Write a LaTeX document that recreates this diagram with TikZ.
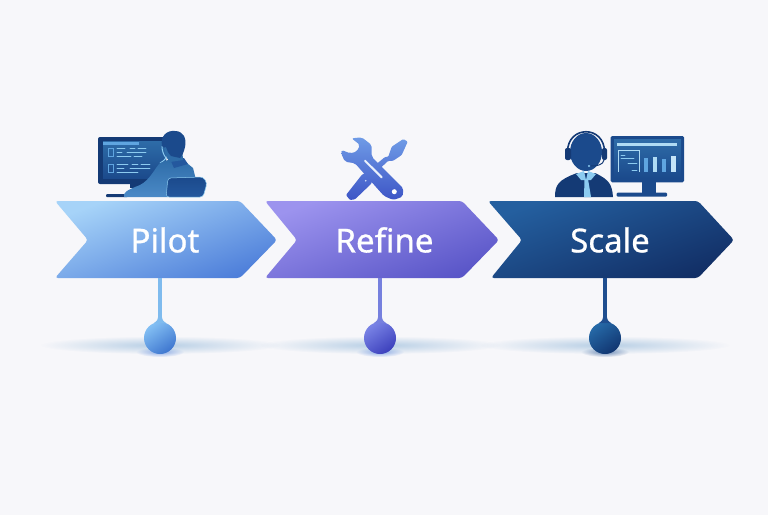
\documentclass[tikz,border=0pt]{standalone}
\usepackage{fontspec}
\usetikzlibrary{fadings}
\newfontfamily\labelfont[FakeBold=0.8]{Noto Sans}
\definecolor{paper}{HTML}{F7F7FA}
\definecolor{navy}{HTML}{1B4A8C}
\definecolor{deepnavy}{HTML}{143A75}
\definecolor{skyline}{HTML}{8CCBF0}
\definecolor{midblue}{HTML}{5FA5E0}
\definecolor{screentop}{HTML}{2E6CA8}
\definecolor{coat}{HTML}{24589E}
\definecolor{pilottop}{HTML}{A6D3F8}
\definecolor{pilotlow}{HTML}{4E7FDA}
\definecolor{refinetop}{HTML}{9C93EE}
\definecolor{refinelow}{HTML}{5A56C8}
\definecolor{scaletop}{HTML}{245F9F}
\definecolor{scalelow}{HTML}{122F66}
\definecolor{pilotball}{HTML}{84C0F4}
\definecolor{pilotballlow}{HTML}{3E76CF}
\definecolor{refineball}{HTML}{7A84E6}
\definecolor{refineballlow}{HTML}{3C40BC}
\definecolor{scaleball}{HTML}{266AA8}
\definecolor{scaleballlow}{HTML}{113570}
\definecolor{pilotstem}{HTML}{7FBBEE}
\definecolor{refinestem}{HTML}{7680DE}
\definecolor{scalestem}{HTML}{1F4E8F}
\definecolor{tooltop}{HTML}{6F9BE6}
\definecolor{toollow}{HTML}{3D55C6}
\tikzset{
  boxlabel/.style={text=white,font=\labelfont\fontsize{33}{33}\selectfont,inner sep=0pt},
  chevron/.style={rounded corners=3pt},
  stem/.style={line width=3.2pt},
  dot/.style={circle,minimum size=32pt,inner sep=0pt},
  floorglow/.style={color=navy!40!skyline,path fading=softspot,opacity=.42},
  dotshadow/.style={color=#1,path fading=softspot,opacity=.6},
  screenline/.style={draw=skyline,line width=.9pt,line cap=round}
}
\tikzfading[name=softspot,inner color=transparent!0,outer color=transparent!100]
\begin{document}
\begin{tikzpicture}[x=1pt,y=-1pt]
  \useasboundingbox (0,0) rectangle (768,515);
  \fill [paper] (0,0) rectangle (768,515);
  % Floor glow
  \fill [floorglow] (160,345) ellipse (120 and 9);
  \fill [floorglow] (380,345) ellipse (120 and 9);
  \fill [floorglow] (605,345) ellipse (125 and 9);
  \fill [dotshadow=pilotlow] (160,352) ellipse (24 and 5);
  \fill [dotshadow=pilotlow] (380,352) ellipse (24 and 5);
  \fill [dotshadow=navy] (605,352) ellipse (24 and 5);
  % Arrow boxes
  \shade [chevron,top color=pilottop,bottom color=pilotlow,shading angle=20] (55,201) -- (240,201) -- (277,240) -- (240,278) -- (55,278) -- (88,240) -- cycle;
  \shade [chevron,top color=refinetop,bottom color=refinelow,shading angle=20] (265,201) -- (462,201) -- (499,240) -- (462,278) -- (265,278) -- (297,240) -- cycle;
  \shade [chevron,top color=scaletop,bottom color=scalelow,shading angle=20] (488,201) -- (698,201) -- (734,240) -- (698,278) -- (491,278) -- (522,240) -- cycle;
  % Labels
  \node [boxlabel] (pilot) at (165,240) {Pilot};
  \node [boxlabel] (refine) at (384.5,240) {Refine};
  \node [boxlabel] (scale) at (610,240) {Scale};
  % Stems and dots
  \coordinate (pilotfoot) at (160,278);
  \coordinate (refinefoot) at (380,278);
  \coordinate (scalefoot) at (605,278);
  \node [dot,top color=pilotball,bottom color=pilotballlow,shading angle=35] (pilotdot) at (160,338) {};
  \node [dot,top color=refineball,bottom color=refineballlow,shading angle=35] (refinedot) at (380,338) {};
  \node [dot,top color=scaleball,bottom color=scaleballlow,shading angle=35] (scaledot) at (605,338) {};
  \draw [stem,color=pilotstem] (pilotfoot) -- (pilotdot);
  \draw [stem,color=refinestem] (refinefoot) -- (refinedot);
  \draw [stem,color=scalestem] (scalefoot) -- (scaledot);
  % Stem flares
  \fill [pilotstem] (158.4,316) .. controls (158.4,319) and (157,321) .. (154,323) -- (166,323) .. controls (163,321) and (161.6,319) .. (161.6,316) -- cycle;
  \fill [refinestem] (378.4,316) .. controls (378.4,319) and (377,321) .. (374,323) -- (386,323) .. controls (383,321) and (381.6,319) .. (381.6,316) -- cycle;
  \fill [scalestem] (603.4,316) .. controls (603.4,319) and (602,321) .. (599,323) -- (611,323) .. controls (608,321) and (606.6,319) .. (606.6,316) -- cycle;
  % Developer at a screen
  \fill [deepnavy,rounded corners=2pt] (98,137) rectangle (166,184);
  \shade [top color=screentop,bottom color=navy] (103,141) rectangle (166,178);
  \fill [color=midblue] (103,142) rectangle (139,144.5);
  \draw [color=midblue,line width=.7pt] (108,148) rectangle (113,156) (108,164) rectangle (113,172);
  \draw [screenline] (117,148) -- (125,148) (130,148) -- (135,148) (138,148) -- (146,148) (117,152) -- (122,152) (127,152) -- (146,152) (117,156) -- (131,156) (134,156) -- (142,156);
  \draw [screenline] (117,164) -- (128,164) (132,164) -- (138,164) (141,164) -- (150,164) (117,168) -- (124,168) (130,168) -- (150,168) (117,172) -- (138,172);
  \fill [deepnavy] (130,184) rectangle (147,188);
  \fill [deepnavy,rounded corners=1pt] (106,194) rectangle (128,197);
  \draw [skyline,line width=1pt] (160,163) .. controls (163,161) and (165,160) .. (166,158) .. controls (163,154) and (162,150) .. (162,146);
  \shade [top color=screentop,bottom color=midblue!70!navy] (124,197) .. controls (124,192) and (125,191) .. (140,185) .. controls (150,180) and (155,168) .. (160,163) -- (168,160) -- (182,159) -- (193,168) -- (196,180) -- (168,197) -- cycle;
  \fill [color=coat] (170,159) -- (184,158) -- (188,164) -- (174,168) -- cycle;
  \fill [color=screentop] (164,146) -- (182,146) -- (183,160) -- (170,162) .. controls (166,158) and (164,152) .. (164,146) -- cycle;
  \fill [navy] (162,146) .. controls (160,136) and (167,130) .. (175,131) .. controls (183,131) and (187,138) .. (185,147) .. controls (184,152) and (182,156) .. (180,158) -- (171,156) .. controls (168,153) and (167,150) .. (166,147) .. controls (165,148) and (163,148) .. (162,146) -- cycle;
  \shade [rounded corners=3pt,draw=skyline,line width=.5pt,top color=navy,bottom color=coat] (166,197) -- (168,178) -- (203,177) -- (207,183) -- (203,197) -- cycle;
  % Wrench and screwdriver
  \shade [top color=tooltop,bottom color=toollow,rounded corners=1pt] (388.3,156.7) -- (391.7,146.7) -- (403.3,139) -- (407.7,141.7) -- (401.7,155) -- (393.3,160.7) -- (388,161) -- (372,176) -- (371.7,183.3) -- (355,199.3) -- (350,200) -- (346,195) -- (361.7,175) -- (368,171) -- (385,157) -- cycle;
  \shade [top color=tooltop,bottom color=toollow,rounded corners=2pt] (341.7,150) -- (350,153.3) -- (356.7,151.7) -- (360,145) -- (351.7,138.3) -- (361.7,137.3) -- (371.7,145) -- (371.7,156.7) -- (403.3,188.3) -- (402.7,196.7) -- (393.3,200) -- (384,196) -- (355,163.3) -- (345,161.7) -- (341,153.3) -- cycle;
  \draw [color=white!85!tooltop,line width=2pt,line cap=round] (365,160.7) -- (381.7,177.3);
  \fill [white] (394.3,191.7) circle (2.5);
  \fill [color=white!70!tooltop] (365.7,180.7) circle (.9);
  % Support agent
  \fill [deepnavy] (555,197) .. controls (555,185) and (558,180) .. (577,173) -- (595,173) .. controls (610,180) and (612,185) .. (613,197) -- cycle;
  \fill [navy] (586,152) ellipse (16 and 19);
  \draw [deepnavy,line width=1.6pt] (567.5,152) .. controls (567.5,125) and (604.5,125) .. (604.5,152);
  \fill [deepnavy,rounded corners=2pt] (565,148) rectangle (571,160) (602,148) rectangle (607,160);
  \draw [deepnavy,line width=1pt] (604,160) .. controls (603,165) and (597,166) .. (591,166);
  \fill [color=skyline] (589,166) circle (1.2);
  \fill [color=skyline] (576,174) -- (584,171) -- (586,180) -- (581,180) -- cycle (596,174) -- (588,171) -- (586,180) -- (591,180) -- cycle;
  \fill [color=skyline] (584.5,179) -- (588,179) -- (591,197) -- (584,197) -- cycle;
  \fill [navy] (642,182) rectangle (656,193);
  \fill [navy,rounded corners=1pt] (616.7,192.7) rectangle (667,196.7);
  \fill [navy,rounded corners=1.5pt] (610.7,136) rectangle (684,182.3);
  \shade [top color=screentop,bottom color=navy] (614,139) rectangle (681,178);
  \fill [color=skyline!70!white] (617.3,142.7) rectangle (676.7,146);
  \draw [color=skyline!70,line width=.5pt] (639.3,150) -- (618.3,150) -- (618.3,171.7);
  \draw [color=skyline!70,line width=.5pt] (639.3,150) -- (639.3,171.7);
  \draw [screenline,line width=.6pt] (621,155) -- (625,155) (621,158) -- (634,158) (628,163) -- (637,163) (632,170) -- (637,170);
  \fill [color=midblue] (644,158.3) rectangle (648.3,171.7);
  \fill [color=skyline!70!white] (652.7,156.7) rectangle (657.3,171.7);
  \fill [color=midblue] (661.7,159.3) rectangle (666,171.7);
  \fill [color=skyline!50!white] (670.7,156) rectangle (675.7,171.7);
\end{tikzpicture}
\end{document}
